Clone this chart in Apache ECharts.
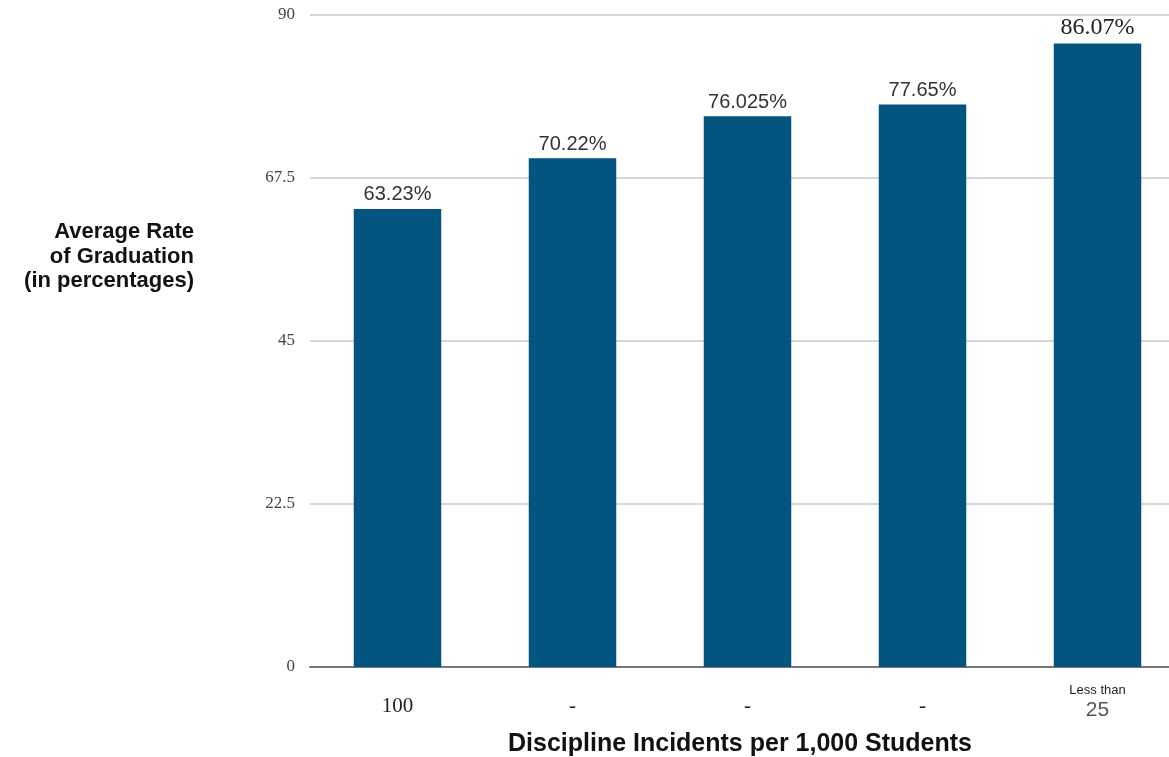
<!DOCTYPE html>
<html>
<head>
<meta charset="utf-8">
<script src="https://cdn.jsdelivr.net/npm/echarts@6/dist/echarts.min.js"></script>
<style>
  html, body { margin: 0; padding: 0; background: #fff; }
  #chart { width: 1169px; height: 757px; }
</style>
</head>
<body>
<div id="chart"></div>
<script>
// Discipline incident bands (per 1,000 students)
const categories = ['100', '-', '-', '-', 'Less than\n25'];
// Average graduation rate per band, in percent
const gradRates = [63.23, 70.22, 76.025, 77.65, 86.07];
// Value axis ticks
const yMin = 0;
const yMax = 90;
const yStep = 22.5;

const barColor = '#03557f';
const sans = '"Liberation Sans", Arial, sans-serif';
const serif = '"Liberation Serif", "Times New Roman", serif';

const chart = echarts.init(document.getElementById('chart'));

const barData = gradRates.map((v, i) => {
  const last = i === gradRates.length - 1;
  return {
    value: v,
    label: last
      ? { fontFamily: serif, fontSize: 24, color: '#222' }
      : { fontFamily: sans, fontSize: 20, color: '#333' }
  };
});

chart.setOption({
  animation: false,
  backgroundColor: '#fff',
  grid: {
    left: 310, top: 15, width: 875, height: 652,
    containLabel: false,
    outerBoundsMode: 'none'
  },
  xAxis: {
    type: 'category',
    data: categories,
    axisTick: { show: false },
    axisLine: { lineStyle: { color: '#777', width: 2 } },
    axisLabel: {
      margin: 15,
      interval: 0,
      formatter: (value) => {
        const parts = value.split('\n');
        if (parts.length > 1) {
          return '{a|' + parts[0] + '}\n{b|' + parts[1] + '}';
        }
        return '{c|' + value + '}';
      },
      rich: {
        a: { fontFamily: sans, fontSize: 13, color: '#222', lineHeight: 16 },
        b: { fontFamily: sans, fontSize: 21, color: '#555', lineHeight: 24 },
        c: { fontFamily: serif, fontSize: 21, color: '#222', lineHeight: 48 }
      }
    }
  },
  yAxis: {
    type: 'value',
    min: yMin,
    max: yMax,
    interval: yStep,
    axisLine: { show: false },
    axisTick: { show: false },
    splitLine: { lineStyle: { color: '#c8c8c8', width: 1.5 } },
    axisLabel: { fontFamily: serif, fontSize: 17, color: '#444', margin: 15 }
  },
  series: [{
    type: 'bar',
    data: barData,
    barWidth: '50%',
    itemStyle: { color: barColor },
    label: {
      show: true,
      position: 'top',
      distance: 4,
      formatter: (p) => p.value + '%'
    }
  }],
  graphic: [
    {
      type: 'text',
      x: 194,
      y: 220,
      style: {
        text: 'Average Rate\nof Graduation\n(in percentages)',
        font: 'bold 22px ' + sans,
        fill: '#111',
        align: 'right',
        verticalAlign: 'top',
        lineHeight: 24.5
      }
    },
    {
      type: 'text',
      x: 740,
      y: 744,
      style: {
        text: 'Discipline Incidents per 1,000 Students',
        font: 'bold 25px ' + sans,
        fill: '#111',
        align: 'center',
        verticalAlign: 'middle'
      }
    }
  ]
});
</script>
</body>
</html>
